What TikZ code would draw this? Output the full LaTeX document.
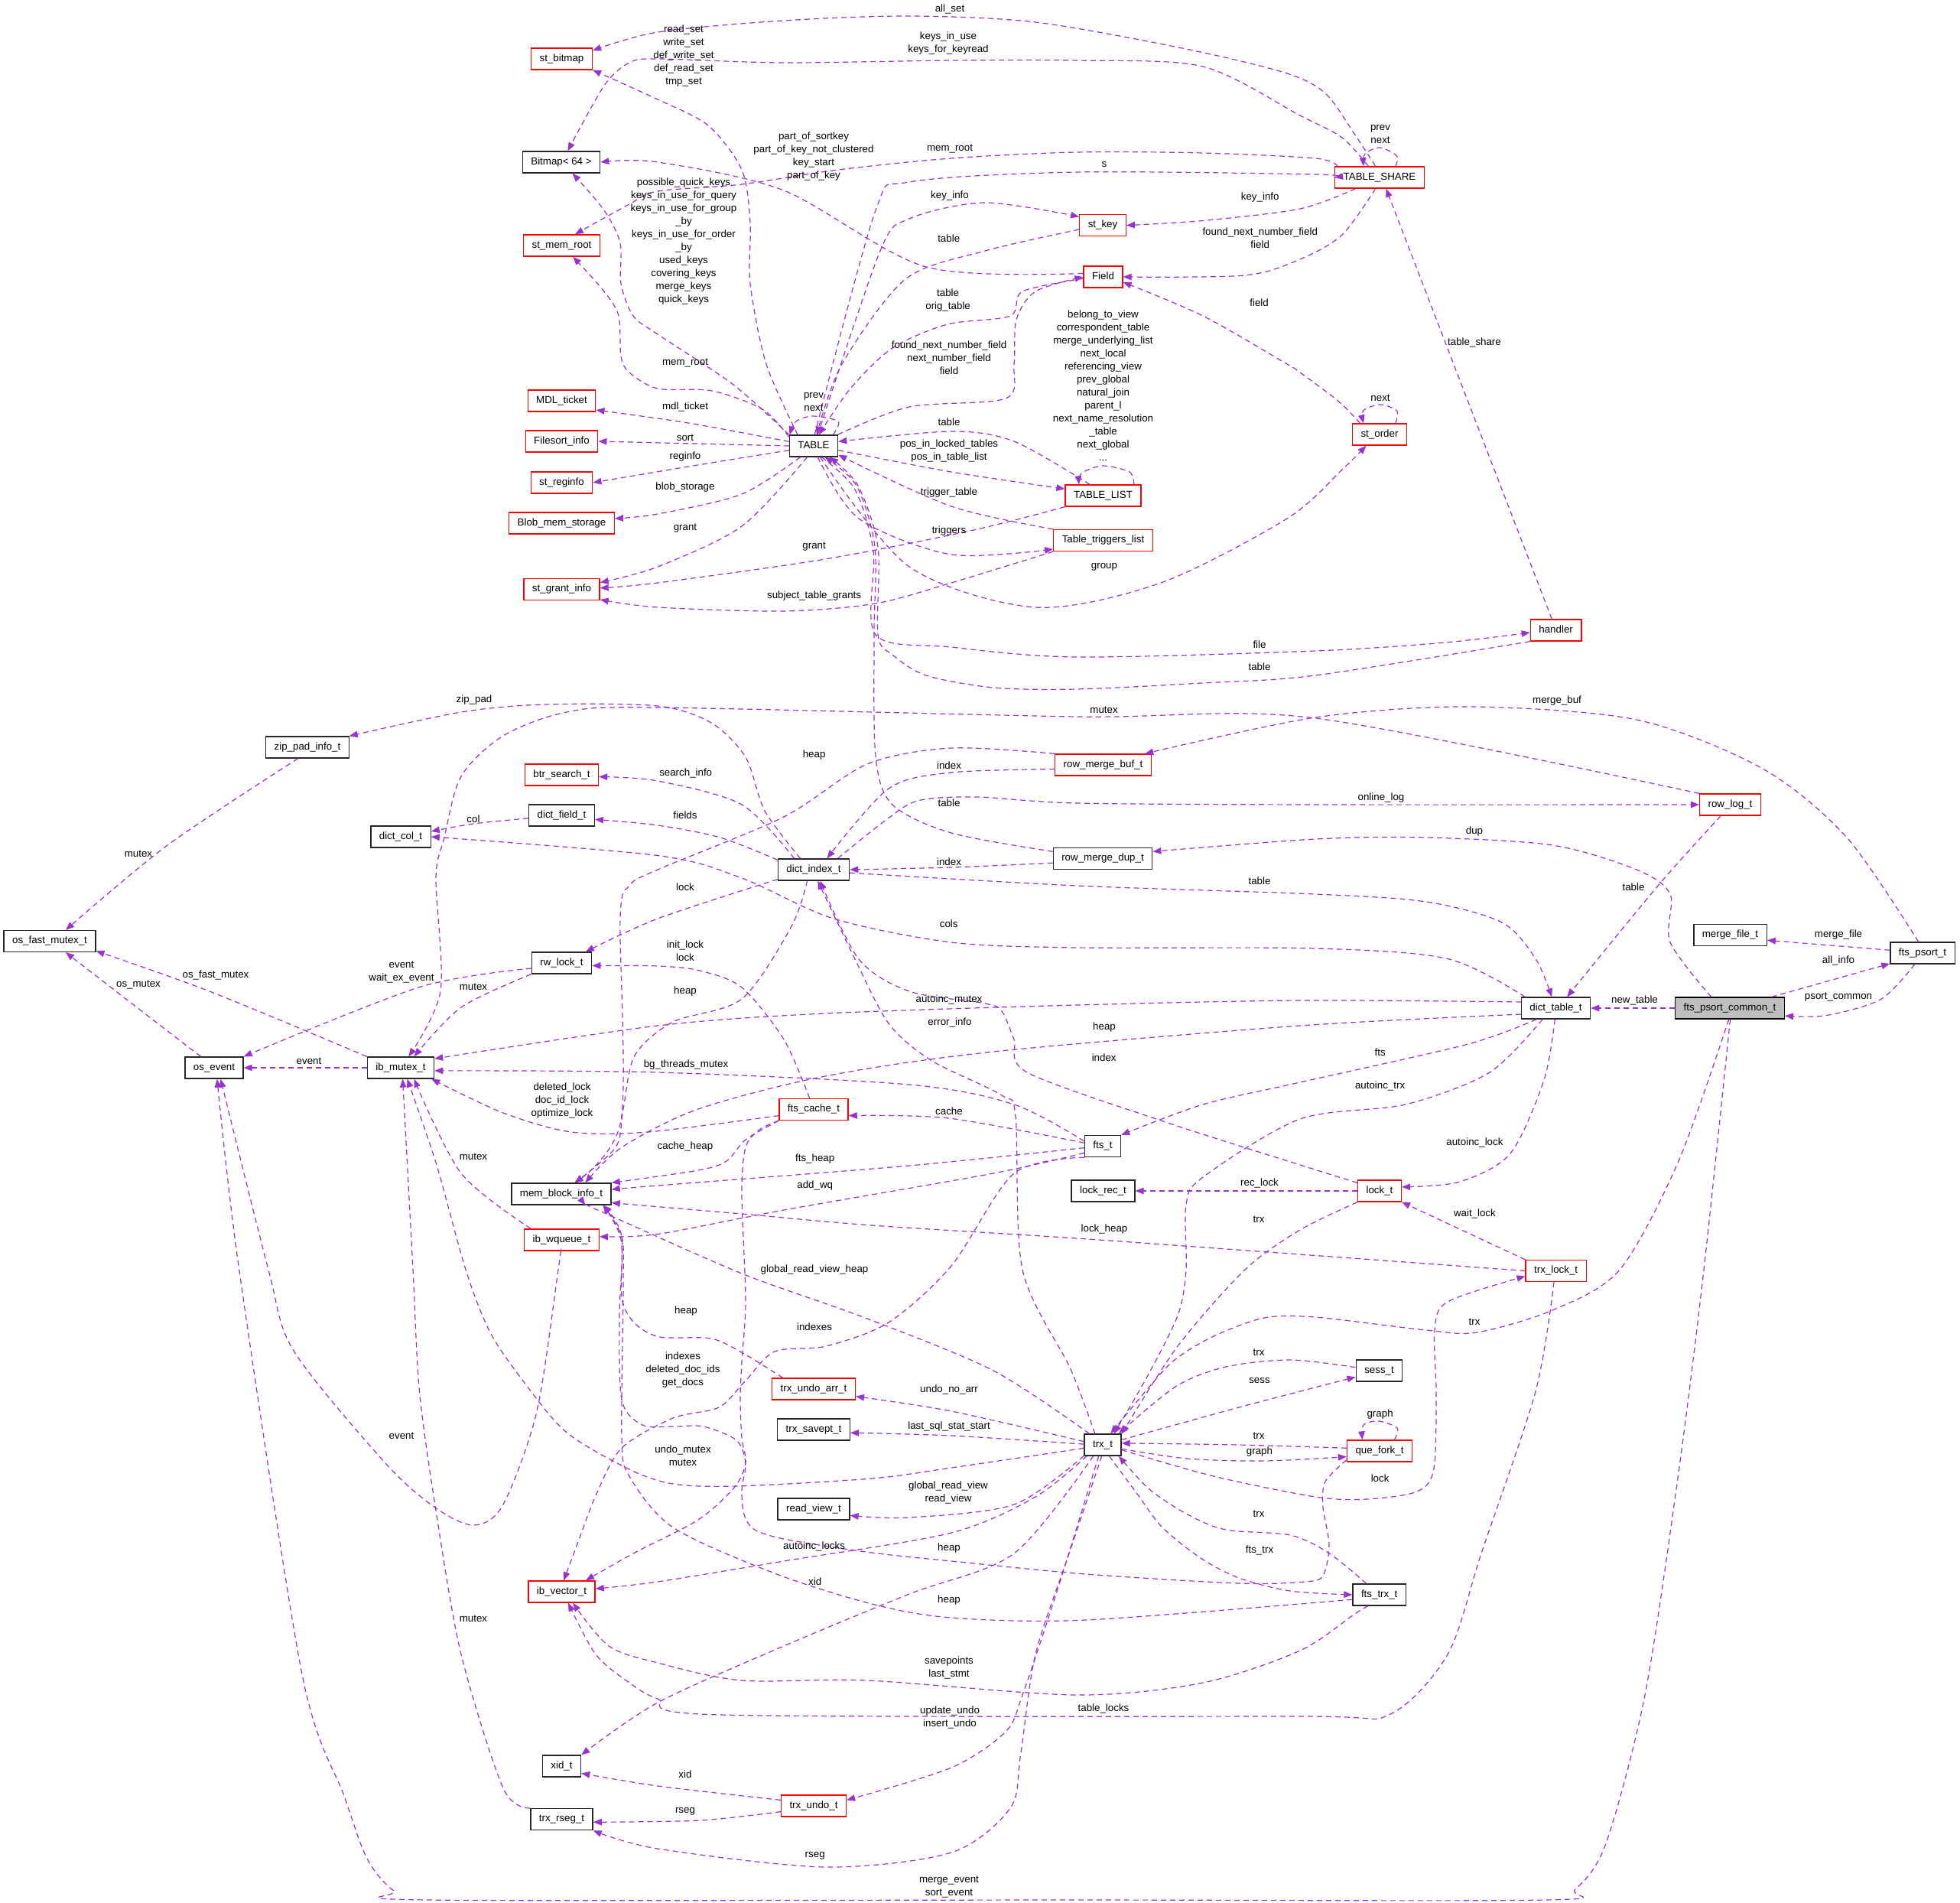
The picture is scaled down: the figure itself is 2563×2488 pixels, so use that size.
\documentclass[tikz,border=0pt]{standalone}
\usepackage{fontspec}
\setmainfont{Liberation Sans}
\usetikzlibrary{arrows.meta}
\definecolor{edgec}{HTML}{9A32CD}
\definecolor{redb}{HTML}{FF0000}
\definecolor{grayf}{HTML}{BFBFBF}
\newcommand\gfont{\fontsize{13.33}{17}\selectfont}
\tikzset{
 box/.style={draw=black!85, line width=1.3pt, minimum height=28pt, inner xsep=11pt, inner ysep=0pt, font=\gfont, text height=9.6pt, text depth=3pt, fill=white},
 rbox/.style={box, draw=redb},
 rootbox/.style={box, draw=black, fill=grayf},
 lb/.style={font=\gfont, align=center, inner sep=0pt},
 e/.style={color=edgec, line width=1.2pt, dash pattern=on 7pt off 5pt, -{Triangle[length=11pt,width=8.5pt]}},
 sm/.style={smooth, tension=0.5}
}
\begin{document}
\begin{tikzpicture}[x=1pt,y=-1pt]
\fill[white] (0,0) rectangle (2563,2488);
\useasboundingbox (0,0) rectangle (2563,2488);
% ---------------- nodes
\node[rbox] (stb) at (734.5,77) {st\_bitmap};
\node[box] (bmp) at (734,212) {Bitmap< 64 >};
\node[rbox] (mr) at (734.5,321) {st\_mem\_root};
\node[rbox] (mdl) at (734.5,524) {MDL\_ticket};
\node[rbox] (fso) at (734.5,577) {Filesort\_info};
\node[rbox] (reg) at (734.5,631) {st\_reginfo};
\node[rbox] (blob) at (734.5,684) {Blob\_mem\_storage};
\node[rbox] (grant) at (734.5,770.5) {st\_grant\_info};
\node[rbox] (bts) at (734.5,1013) {btr\_search\_t};
\node[box] (dft) at (734.5,1066) {dict\_field\_t};
\node[box] (rw) at (734.5,1259) {rw\_lock\_t};
\node[box] (mbi) at (734,1561) {mem\_block\_info\_t};
\node[rbox] (wq) at (734.5,1621) {ib\_wqueue\_t};
\node[rbox] (iv) at (734.5,2081) {ib\_vector\_t};
\node[box] (xid) at (734.5,2309) {xid\_t};
\node[box] (rseg) at (734.5,2378.6) {trx\_rseg\_t};
\node[box] (TBL) at (1064,583) {TABLE};
\node[box] (zip) at (402,977) {zip\_pad\_info\_t};
\node[box] (dct) at (524,1094) {dict\_col\_t};
\node[box] (ofm) at (65,1230.5) {os\_fast\_mutex\_t};
\node[box] (oev) at (280,1396) {os\_event};
\node[box] (ibm) at (524,1396) {ib\_mutex\_t};
\node[box] (di) at (1064,1137) {dict\_index\_t};
\node[rbox] (fcache) at (1064,1450.5) {fts\_cache\_t};
\node[rbox] (tua) at (1064,1816) {trx\_undo\_arr\_t};
\node[box] (tsp) at (1064,1869) {trx\_savept\_t};
\node[box] (rv) at (1064,1973) {read\_view\_t};
\node[rbox] (tu) at (1064,2361) {trx\_undo\_t};
\node[rbox] (key) at (1442,294.6) {st\_key};
\node[rbox] (fld) at (1442.5,362) {Field};
\node[rbox] (tl) at (1442.5,648) {TABLE\_LIST};
\node[rbox] (ttl) at (1442.5,706.5) {Table\_triggers\_list};
\node[rbox] (rmb) at (1442.5,1000) {row\_merge\_buf\_t};
\node[box] (rmd) at (1442,1122.5) {row\_merge\_dup\_t};
\node[box] (fts) at (1442,1498.5) {fts\_t};
\node[box] (lrec) at (1442.5,1557) {lock\_rec\_t};
\node[box] (trx) at (1442,1889) {trx\_t};
\node[rbox] (TS) at (1804,232) {TABLE\_SHARE};
\node[rbox] (ord) at (1804,568) {st\_order};
\node[rbox] (lock) at (1804,1557) {lock\_t};
\node[box] (sess) at (1803.5,1792) {sess\_t};
\node[rbox] (qf) at (1804,1897) {que\_fork\_t};
\node[box] (ftrx) at (1803.7,2085) {fts\_trx\_t};
\node[rbox] (hnd) at (2034.6,824) {handler};
\node[box] (dtt) at (2034.5,1318) {dict\_table\_t};
\node[rbox] (tlk) at (2034.6,1661.5) {trx\_lock\_t};
\node[rbox] (rlog) at (2262.5,1052) {row\_log\_t};
\node[box] (mft) at (2262.5,1222.5) {merge\_file\_t};
\node[rootbox] (fpc) at (2262,1318) {fts\_psort\_common\_t};
\node[box] (fps) at (2514,1246) {fts\_psort\_t};
% ---------------- edges
% TABLE_SHARE
\draw[e] plot[sm] coordinates {(TS.110) (1771,175) (1733,122) (1680,95) (1546,63) (1354,29) (1189,21) (1024,27) (860,42) (stb.15)};
\draw[e] plot[sm] coordinates {(TS.135) (1755,180) (1700,151) (1573,87) (1408,79) (1244,79) (1024,82) (860,77) (823,82) (790,112) (bmp.60)};
\draw[e] plot[sm] coordinates {(TS.165) (1720,207) (1573,200) (1408,199) (1244,207) (1096,222) (970,241) (860,250) (823,267) (mr.40)};
\draw[e] plot[sm] coordinates {(TS.-155) (1700,273) (1573,288.5) (key.east)};
\draw[e] plot[sm] coordinates {(TS.-110) (1755,307) (1700,339) (1628,360) (fld.east)};
\draw[e] plot[sm] coordinates {(TS.35) (1826.6,204) (1804.6,193) (1785,201) (TS.145)};
% TABLE
\draw[e] plot[sm] coordinates {(TBL.145) (1002,476) (981,371) (981,291) (970,222) (926,164) (860,130) (stb.south east)};
\draw[e] plot[sm] coordinates {(TBL.north west) (959,503) (860,437) (828,413) (812,371) (811,318) (790,275) (bmp.-45)};
\draw[e] plot[sm] coordinates {(TBL.160) (997,535) (931,511) (860,508) (823,487) (812,466) (809,413) (790,381) (mr.-45)};
\draw[e] plot[sm] coordinates {(TBL.170) (900,553) (mdl.-15)};
\draw[e] (TBL.west) -- (fso.east);
\draw[e] plot[sm] coordinates {(TBL.190) (900,610) (reg.east)};
\draw[e] plot[sm] coordinates {(TBL.220) (970,646) (860,672) (blob.5)};
\draw[e] plot[sm] coordinates {(TBL.240) (970,688) (860,741) (grant.10)};
\draw[e] plot[sm] coordinates {(TBL.30) (1096,551) (1063,544) (1041,551) (TBL.155)};
\draw[e] plot[sm] coordinates {(TBL.70) (1151,328) (1189,286) (1288,265) (key.160)};
\draw[e] plot[sm] coordinates {(TBL.25) (1189,532) (1315,521) (1326,476) (1329,418) (1354,381) (fld.180)};
\draw[e] plot[sm] coordinates {(TBL.85) (1145,275) (1189,238) (1408,225) (1720,228) (TS.west)};
\draw[e] plot[sm] coordinates {(TBL.-10) (1244,617) (tl.170)};
\draw[e] plot[sm] coordinates {(TBL.-70) (1123,678) (1244,725) (ttl.-170)};
\draw[e] plot[sm] coordinates {(TBL.-60) (1189,741) (1354,794) (1518,762) (1683,678) (1755,614) (ord.-140)};
\draw[e] plot[sm] coordinates {(TBL.-55) (1118,640) (1142,720) (1145,830) (1244,846) (1408,859) (1720,851) (1890,840) (hnd.-175)};
% st_key, Field
\draw[e] plot[sm] coordinates {(key.-170) (1288,328) (1184,365) (1101,476) (TBL.75)};
\draw[e] plot[sm] coordinates {(fld.185) (1337,381) (1321,413) (1239,424) (1167,455) (1112,508) (TBL.65)};
\draw[e] plot[sm] coordinates {(fld.170) (1211,349) (1025,249) (860,212) (bmp.east)};
% TABLE_LIST, Table_triggers_list
\draw[e] plot[sm] coordinates {(tl.south west) (1271,693.5) (1079,731) (860,762) (grant.2)};
\draw[e] plot[sm] coordinates {(tl.140) (1326,577) (1244,564) (TBL.10)};
\draw[e] plot[sm] coordinates {(tl.20) (1477,617) (1441.5,609) (1414,619) (tl.155)};
\draw[e] plot[sm] coordinates {(ttl.south west) (1244,762) (1145,789) (1025,799) (860,794) (grant.-15)};
\draw[e] plot[sm] coordinates {(ttl.north west) (1244,662) (TBL.-20)};
% st_order
\draw[e] plot[sm] coordinates {(ord.150) (1749.5,524) (1700,487) (1683,476) (1573,413) (fld.-15)};
\draw[e] plot[sm] coordinates {(ord.35) (1826.6,537) (1804.6,529) (1782.6,537) (ord.145)};
% handler
\draw[e] (hnd.110) -- (TS.-60);
\draw[e] plot[sm] coordinates {(hnd.south west) (1720,883) (1573,893) (1408,901) (1299,899) (1211,883) (1167,856) (1148,830) (1148,715) (1122,635) (TBL.-35)};
% row_merge_dup_t, row_merge_buf_t
\draw[e] plot[sm] coordinates {(rmd.172) (1244,1089) (1167,1052) (1145,989) (1143,830) (1144,715) (1120,635) (TBL.-45)};
\draw[e] plot[sm] coordinates {(rmd.-175) (1244,1134) (di.east)};
\draw[e] plot[sm] coordinates {(rmb.-175) (1244,1010) (1162,1031) (di.40)};
\draw[e] plot[sm] coordinates {(rmb.north west) (1244,978) (1134,999) (1025,1068) (860,1137) (823,1158) (811,1201) (812,1465) (mbi.40)};
% dict_index_t
\draw[e] plot[sm] coordinates {(di.25) (1156,1074) (1200,1047) (1277,1042) (1408,1050) (1720,1052) (rlog.west)};
\draw[e] plot[sm] coordinates {(di.140) (1000,1060) (975,990) (930,945) (860,923) (713,921) (603,931) (zip.15)};
\draw[e] plot[sm] coordinates {(di.150) (970,1052) (860,1021) (bts.-3)};
\draw[e] plot[sm] coordinates {(di.165) (942,1095) (860,1079) (dft.-7)};
\draw[e] plot[sm] coordinates {(di.-165) (860,1201) (rw.25)};
\draw[e] plot[sm] coordinates {(di.-5) (1408,1158) (1720,1169) (1865,1179) (1964,1206) (2008,1253.5) (dtt.110)};
\draw[e] plot[sm] coordinates {(di.-120) (1035,1211) (970,1306) (880,1336) (830,1380) (815,1450) (805,1500) (mbi.40)};
\draw[e] plot[sm] coordinates {(dft.-175) (619,1077) (dct.10)};
% row_log_t
\draw[e] plot[sm] coordinates {(rlog.north west) (1720,939) (1408,937) (860,925) (741,931) (658,962) (603,1015) (581,1095) (570,1148) (576,1296) (ibm.55)};
\draw[e] plot[sm] coordinates {(rlog.-130) (2168,1158) (dtt.45)};
% fts_psort_t, fts_psort_common_t
\draw[e] plot[sm] coordinates {(fps.110) (2415,1095) (2305,1005) (2140,941) (1920,924) (1720,938) (rmb.15)};
\draw[e] (fps.175) -- (mft.-8);
\draw[e] plot[sm] coordinates {(fps.-125) (2459.5,1306.5) (2388,1327.6) (fpc.-8)};
\draw[e] (fpc.west) -- (dtt.east);
\draw[e] (fpc.15) -- (fps.-162);
\draw[e] plot[sm] coordinates {(fpc.149) (2184,1232) (2184,1169) (2140,1137) (2030,1105) (1865,1095) (1720,1097) (rmd.8)};
\draw[e] plot[sm] coordinates {(fpc.-95) (2195,1518) (2118,1660) (2030,1713) (1931,1742) (1865,1739) (1720,1722) (1653,1723) (1587,1747) (1537,1777) (1503,1813) (trx.55)};
\draw[e] plot[sm] coordinates {(fpc.-88) (2228,1660) (2195,1925) (2151,2216) (2100,2410) (2060,2470) (2020,2484) (1400,2484) (560,2484) (515,2472) (480,2430) (450,2348) (395,2189) (312.7,1660) (oev.-75)};
% dict_table_t
\draw[e] plot[sm] coordinates {(dtt.160) (1893,1253.5) (1720,1240) (1408,1239) (1244,1232) (1090,1201) (970,1148) (860,1118.5) (dct.east)};
\draw[e] plot[sm] coordinates {(dtt.170) (1700,1308) (1408,1314) (1079,1325) (860,1341) (ibm.15)};
\draw[e] plot[sm] coordinates {(dtt.-170) (1700,1341) (1299,1375) (1079,1407) (913,1450) (813,1500) (mbi.25)};
\draw[e] plot[sm] coordinates {(dtt.-150) (1920,1365) (1700,1415) (1573,1444) (fts.north east)};
\draw[e] plot[sm] coordinates {(dtt.-140) (1948,1402) (1838,1444) (1700,1463) (1573,1539) (1551,1575) (1551,1660) (1540,1720) (1500,1800) (trx.45)};
\draw[e] plot[sm] coordinates {(dtt.-95) (2019,1412) (1975,1508) (1909,1545) (lock.10)};
% trx -> dict_index_t
\draw[e] plot[sm] coordinates {(trx.125) (1400,1790) (1337,1660) (1328,1460) (1310,1432) (1217,1386) (1162,1338) (1118,1254) (di.-70)};
% lock_t
\draw[e] plot[sm] coordinates {(lock.160) (1700,1523) (1518,1465) (1343,1402) (1326,1359) (1310,1322) (1288,1312) (1189,1296) (1123,1254) (di.-60)};
\draw[e] (lock.west) -- (lrec.east);
\draw[e] plot[sm] coordinates {(lock.south west) (1700,1608) (1628,1660) (1540,1760) (trx.30)};
% trx_lock_t
\draw[e] (tlk.north west) -- (lock.south east);
\draw[e] plot[sm] coordinates {(tlk.west) (1700,1640) (1408,1619) (1140,1602) (970,1587) (mbi.-10)};
\draw[e] plot[sm] coordinates {(tlk.-100) (2008,1819) (1937,2031) (1893,2163) (1816,2242) (1700,2244) (942,2242) (860,2221) (823,2200) (779,2163) (iv.-60)};
% trx_t
\draw[e] plot[sm] coordinates {(trx.-15) (1587,1930) (1720,1957) (1787,1960) (1853,1950) (1875,1920) (1878,1820) (1876,1739) (1893,1702) (tlk.-170)};
\draw[e] plot[sm] coordinates {(trx.15) (1620,1840) (sess.-165)};
\draw[e] plot[sm] coordinates {(sess.172) (1687,1778) (1603,1787) (1537,1813) (trx.35)};
\draw[e] plot[sm] coordinates {(qf.175) (1620,1889) (trx.5)};
\draw[e] plot[sm] coordinates {(trx.-12) (1553,1907) (1653,1910) (qf.-170)};
\draw[e] plot[sm] coordinates {(qf.37) (1827,1867) (1803,1858) (1783,1863) (qf.147)};
\draw[e] plot[sm] coordinates {(ftrx.139) (1737,2030) (1687,2007) (1603,2000) (1553,1980) (1503,1947) (trx.-35)};
\draw[e] plot[sm] coordinates {(trx.-60) (1487,1953) (1520,1997) (1570,2037) (1620,2063) (1687,2080) (ftrx.180)};
\draw[e] plot[sm] coordinates {(qf.-165) (1733,1937) (1730,1970) (1738,2020) (1730,2060) (1707,2068) (1620,2070) (1420,2058) (1244,2041) (1140,2030) (1030,2013) (987,2000) (973,1980) (970,1947) (975,1913) (963,1883) (920,1865) (880,1865) (840,1863) (813,1830) (810,1720) (813,1617) (mbi.-15)};
\draw[e] plot[sm] coordinates {(ftrx.-170) (1420,2118) (1244,2115) (1140,2097) (1013,2057) (880,1997) (823,1930) (813,1880) (815,1680) (813,1617) (mbi.-15)};
\draw[e] plot[sm] coordinates {(trx.140) (1299,1792) (1134,1724) (970,1665) (793,1587) (mbi.-25)};
\draw[e] plot[sm] coordinates {(tua.160) (973,1770) (930,1750) (863,1748) (830,1730) (813,1697) (812,1620) (mbi.-15)};
\draw[e] plot[sm] coordinates {(trx.170) (1244,1845) (tua.-10)};
\draw[e] plot[sm] coordinates {(trx.178) (1244,1877) (tsp.-5)};
\draw[e] plot[sm] coordinates {(trx.-150) (1326,1967) (1189,1984) (rv.-10)};
\draw[e] plot[sm] coordinates {(trx.-145) (1354,1957) (1244,2004) (1025,2041) (860,2068) (iv.5)};
\draw[e] plot[sm] coordinates {(trx.-130) (1326,2031) (1189,2084) (1025,2152) (860,2226) (xid.north east)};
\draw[e] plot[sm] coordinates {(trx.-110) (1381,2084) (1337,2216) (1315,2264) (1244,2311) (tu.10)};
\draw[e] plot[sm] coordinates {(trx.-95) (1398,2031) (1354,2163) (1334.5,2295) (1321,2364) (1244,2422) (1079,2441) (860,2417) (rseg.south east)};
\draw[e] plot[sm] coordinates {(trx.-170) (1244,1919) (1140,1933) (963,1943) (880,1940) (823,1921) (740,1872) (680,1800) (640,1740) (609,1660) (570,1520) (ibm.-60)};
% trx_undo_t, trx_rseg_t, ib_wqueue_t
\draw[e] plot[sm] coordinates {(tu.170) (860,2335) (xid.-20)};
\draw[e] plot[sm] coordinates {(tu.-170) (915,2380) (rseg.-5)};
\draw[e] plot[sm] coordinates {(rseg.north west) (658,2338) (603,2163) (570.5,1978) (548.5,1819) (540,1660) (ibm.-80)};
\draw[e] plot[sm] coordinates {(wq.160) (603,1534) (ibm.-40)};
\draw[e] plot[sm] coordinates {(wq.-95) (730,1660) (702,1845) (658,1967) (620,1994) (570.5,1972) (505,1914) (384,1766) (351,1660) (oev.-60)};
% fts_t
\draw[e] plot[sm] coordinates {(fts.170) (1241,1462) (fcache.-10)};
\draw[e] plot[sm] coordinates {(fts.-175) (1189,1524) (860,1550) (mbi.5)};
\draw[e] plot[sm] coordinates {(fts.-160) (1299,1534) (1025,1582) (860,1613.5) (wq.5)};
\draw[e] plot[sm] coordinates {(fts.165) (1326,1444) (1189,1418) (860,1402) (ibm.-5)};
\draw[e] plot[sm] coordinates {(fts.south west) (1326,1534) (1244,1655) (1162,1729) (1080,1760) (1013,1767) (975,1805) (940,1840) (880,1854) (813,1893) (780,1953) (757,2013) (iv.80)};
% fts_cache_t
\draw[e] plot[sm] coordinates {(fcache.-170) (847,1480) (747,1480) (658,1455) (ibm.-20)};
\draw[e] plot[sm] coordinates {(fcache.110) (1025,1359) (970,1291) (915,1269) (860,1263) (rw.-5)};
\draw[e] plot[sm] coordinates {(fcache.south west) (975,1490) (950,1518) (913,1530) (mbi.north east)};
\draw[e] plot[sm] coordinates {(fcache.south west) (993,1477) (975,1500) (970,1560) (975,1700) (970,1780) (968,1830) (970,1880) (975,1913) (960,1945) (913,1987) (830,2030) (iv.25)};
% small left nodes
\draw[e] plot[sm] coordinates {(zip.-130) (219,1105) (ofm.35)};
\draw[e] plot[sm] coordinates {(ibm.north west) (274,1296) (ofm.-12)};
\draw[e] plot[sm] coordinates {(oev.140) (164.6,1306) (ofm.-35)};
\draw[e] (ibm.west) -- (oev.east);
\draw[e] plot[sm] coordinates {(rw.-170) (548.5,1290.6) (oev.north east)};
\draw[e] plot[sm] coordinates {(rw.south west) (603,1317) (ibm.40)};
% fts_trx_t savepoints
\draw[e] plot[sm] coordinates {(ftrx.-135) (1771.5,2110) (1700,2158) (1573,2200) (1408,2216) (1134,2197) (970,2197) (860,2174) (796,2152) (iv.-45)};
% ---------------- labels
\node[lb] (l1) at (1242,12) {all\_set};
\node[lb] (l2) at (1240,57) {keys\_in\_use\\keys\_for\_keyread};
\node[lb] (l3) at (894,72.7) {read\_set\\write\_set\\def\_write\_set\\def\_read\_set\\tmp\_set};
\node[lb] (l4) at (1805,175.5) {prev\\next};
\node[lb] (l5) at (1064,204.6) {part\_of\_sortkey\\part\_of\_key\_not\_clustered\\key\_start\\part\_of\_key};
\node[lb] (l6) at (1242,195) {mem\_root};
\node[lb] (l7) at (1444,214.5) {s};
\node[lb] (l8) at (894,316) {possible\_quick\_keys\\keys\_in\_use\_for\_query\\keys\_in\_use\_for\_group\\\_by\\keys\_in\_use\_for\_order\\\_by\\used\_keys\\covering\_keys\\merge\_keys\\quick\_keys};
\node[lb] (l9) at (1242,256) {key\_info};
\node[lb] (l10) at (1647.7,258) {key\_info};
\node[lb] (l11) at (1647.7,311.5) {found\_next\_number\_field\\field};
\node[lb] (l12) at (1240.7,312) {table};
\node[lb] (l13) at (1239.6,393) {table\\orig\_table};
\node[lb] (l14) at (1646.6,395.5) {field};
\node[lb] (l15) at (1928,448) {table\_share};
\node[lb] (l16) at (1241,467.5) {found\_next\_number\_field\\next\_number\_field\\field};
\node[lb] (l17) at (896,475) {mem\_root};
\node[lb] (l18) at (1064,525) {prev\\next};
\node[lb] (l19) at (1442.5,504.5) {belong\_to\_view\\correspondent\_table\\merge\_underlying\_list\\next\_local\\referencing\_view\\prev\_global\\natural\_join\\parent\_l\\next\_name\_resolution\\\_table\\next\_global\\...};
\node[lb] (l20) at (1805,520) {next};
\node[lb] (l21) at (896,531.5) {mdl\_ticket};
\node[lb] (l22) at (1241,552) {table};
\node[lb] (l23) at (896,572) {sort};
\node[lb] (l24) at (1241,590) {pos\_in\_locked\_tables\\pos\_in\_table\_list};
\node[lb] (l25) at (896,597) {reginfo};
\node[lb] (l26) at (896,637) {blob\_storage};
\node[lb] (l27) at (1241,644) {trigger\_table};
\node[lb] (l28) at (896,691) {grant};
\node[lb] (l29) at (1241,694.5) {triggers};
\node[lb] (l30) at (1064.6,715) {grant};
\node[lb] (l31) at (1444,741) {group};
\node[lb] (l32) at (1064.6,779) {subject\_table\_grants};
\node[lb] (l33) at (1647,843) {file};
\node[lb] (l34) at (1647,872) {table};
\node[lb] (l35) at (620,915) {zip\_pad};
\node[lb] (l36) at (2036,916) {merge\_buf};
\node[lb] (l37) at (1443.6,928) {mutex};
\node[lb] (l38) at (1064.6,987) {heap};
\node[lb] (l39) at (1241,1000.5) {index};
\node[lb] (l40) at (896.7,1010.5) {search\_info};
\node[lb] (l41) at (1806,1043) {online\_log};
\node[lb] (l42) at (1241,1050) {table};
\node[lb] (l43) at (896,1066) {fields};
\node[lb] (l44) at (619,1071) {col};
\node[lb] (l45) at (1928,1087) {dup};
\node[lb] (l46) at (181,1116) {mutex};
\node[lb] (l47) at (1241,1126.5) {index};
\node[lb] (l48) at (1647,1152) {table};
\node[lb] (l49) at (896,1160) {lock};
\node[lb] (l50) at (2136,1160) {table};
\node[lb] (l51) at (1240.7,1207.5) {cols};
\node[lb] (l52) at (2404,1222) {merge\_file};
\node[lb] (l53) at (896,1243) {init\_lock\\lock};
\node[lb] (l54) at (2404,1256) {all\_info};
\node[lb] (l55) at (525,1271) {event\\wait\_ex\_event};
\node[lb] (l56) at (282,1274.7) {os\_fast\_mutex};
\node[lb] (l57) at (181,1288) {os\_mutex};
\node[lb] (l58) at (619,1290.5) {mutex};
\node[lb] (l59) at (896,1296) {heap};
\node[lb] (l60) at (2404,1304) {psort\_common};
\node[lb] (l61) at (1241,1306.5) {autoinc\_mutex};
\node[lb] (l62) at (2137.5,1308) {new\_table};
\node[lb] (l63) at (1242,1336.6) {error\_info};
\node[lb] (l64) at (1444,1343.5) {heap};
\node[lb] (l65) at (1804.6,1376) {fts};
\node[lb] (l66) at (1443.7,1383) {index};
\node[lb] (l67) at (404,1387) {event};
\node[lb] (l68) at (897,1392) {bg\_threads\_mutex};
\node[lb] (l69) at (1804.6,1420) {autoinc\_trx};
\node[lb] (l70) at (735,1439) {deleted\_lock\\doc\_id\_lock\\optimize\_lock};
\node[lb] (l71) at (1241,1452.6) {cache};
\node[lb] (l72) at (1928.4,1494) {autoinc\_lock};
\node[lb] (l73) at (896,1499) {cache\_heap};
\node[lb] (l74) at (619,1512) {mutex};
\node[lb] (l75) at (1065.7,1515.5) {fts\_heap};
\node[lb] (l76) at (1647,1547) {rec\_lock};
\node[lb] (l77) at (1065.7,1550.5) {add\_wq};
\node[lb] (l78) at (1928.4,1586.5) {wait\_lock};
\node[lb] (l79) at (1646,1594) {trx};
\node[lb] (l80) at (1444,1607) {lock\_heap};
\node[lb] (l81) at (1065,1660) {global\_read\_view\_heap};
\node[lb] (l82) at (897,1714) {heap};
\node[lb] (l83) at (1928,1728) {trx};
\node[lb] (l84) at (1065,1735) {indexes};
\node[lb] (l85) at (1646,1768.5) {trx};
\node[lb] (l86) at (893,1791) {indexes\\deleted\_doc\_ids\\get\_docs};
\node[lb] (l87) at (1647,1805) {sess};
\node[lb] (l88) at (1241,1817) {undo\_no\_arr};
\node[lb] (l89) at (1804.6,1849) {graph};
\node[lb] (l90) at (1241,1865) {last\_sql\_stat\_start};
\node[lb] (l91) at (525,1877) {event};
\node[lb] (l92) at (1646,1877) {trx};
\node[lb] (l93) at (893,1903) {undo\_mutex\\mutex};
\node[lb] (l94) at (1647,1898) {graph};
\node[lb] (l95) at (1804.6,1932.6) {lock};
\node[lb] (l96) at (1240,1951.5) {global\_read\_view\\read\_view};
\node[lb] (l97) at (1646,1979) {trx};
\node[lb] (l98) at (1064.6,2021.6) {autoinc\_locks};
\node[lb] (l99) at (1241,2023.7) {heap};
\node[lb] (l100) at (1647,2027) {fts\_trx};
\node[lb] (l101) at (1065.7,2068) {xid};
\node[lb] (l102) at (1241,2092.5) {heap};
\node[lb] (l103) at (619,2116) {mutex};
\node[lb] (l104) at (1241,2180.5) {savepoints\\last\_stmt};
\node[lb] (l105) at (1443,2234) {table\_locks};
\node[lb] (l106) at (1242,2245.5) {update\_undo\\insert\_undo};
\node[lb] (l107) at (896,2320) {xid};
\node[lb] (l108) at (896,2368) {rseg};
\node[lb] (l109) at (1065.7,2426.5) {rseg};
\node[lb] (l110) at (1241,2466.5) {merge\_event\\sort\_event};
\end{tikzpicture}
\end{document}
